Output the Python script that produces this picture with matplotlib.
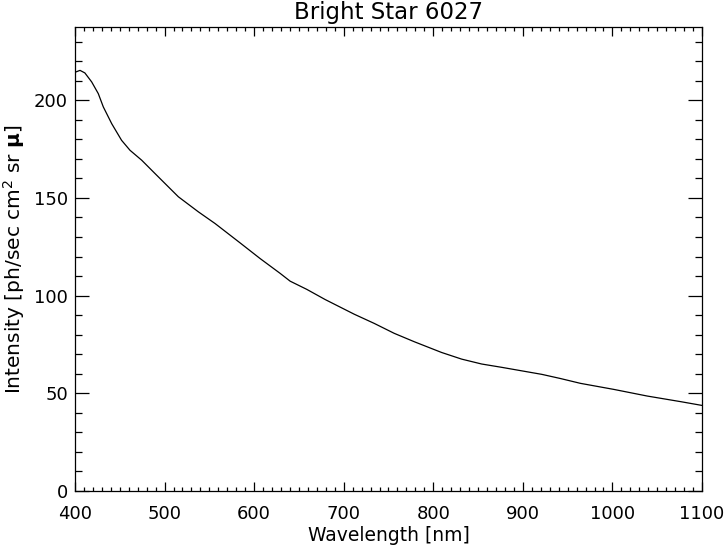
import numpy as np
from matplotlib import pyplot as plt
from matplotlib.ticker import MultipleLocator

# spectrum
wavelength = [401, 405.6, 411, 418.6, 426, 431.6, 441, 452, 461.4, 474.5, 489.3, 504.2,
              515.4, 537.7, 556.4, 584.3, 606.6, 629, 640.2, 658.8, 679.3, 711.7,
              734, 756.4, 778.8, 809.3, 831.7, 854, 876.4, 898.8, 921.2, 941.7, 964.3,
              1001.6, 1038.9, 1076.6, 1100]
intensity = [214.5, 215.3, 214, 209.4, 203.4, 196.6, 188, 179.5, 174.4, 169.3, 162.5, 155.7,
             150.6, 142.9, 136.9, 127, 119, 111.4, 107.4, 103.2, 98, 90.5,
             85.8, 80.7, 76.4, 70.9, 67.5, 65, 63.3, 61.5, 59.7, 57.6, 55.1,
             52, 48.6, 45.7, 43.8]

plt.rcParams['font.family'] = 'DejaVu Sans'
plt.rcParams['mathtext.fontset'] = 'dejavusans'

fig = plt.figure(figsize=(7.25, 5.48), dpi=100)
ax = fig.add_axes([75/725, 57/548, 627/725, 464/548])

ax.plot(wavelength, intensity, 'k-', linewidth=0.9)
ax.set_xlim(400, 1100)
ax.set_ylim(0, 237.5)

ax.xaxis.set_major_locator(MultipleLocator(100))
ax.xaxis.set_minor_locator(MultipleLocator(10))
ax.yaxis.set_major_locator(MultipleLocator(50))
ax.yaxis.set_minor_locator(MultipleLocator(10))

ax.tick_params(axis='both', which='both', direction='in', top=True, right=True,
               width=0.9, labelsize=13)
ax.tick_params(axis='x', which='major', length=6.5, pad=10)
ax.tick_params(axis='x', which='minor', length=3)
ax.tick_params(axis='y', which='major', length=10, pad=5)
ax.tick_params(axis='y', which='minor', length=5)
for s in ax.spines.values():
    s.set_linewidth(0.9)

ax.set_title('Bright Star 6027', fontsize=16.5, pad=6)
ax.set_xlabel('Wavelength [nm]', fontsize=13.5, labelpad=2)
ax.set_ylabel(r'Intensity [ph/sec cm$^2$ sr $\mathbf{\mu}$]', fontsize=14.5, labelpad=5)

plt.savefig('out.png', dpi=100)
